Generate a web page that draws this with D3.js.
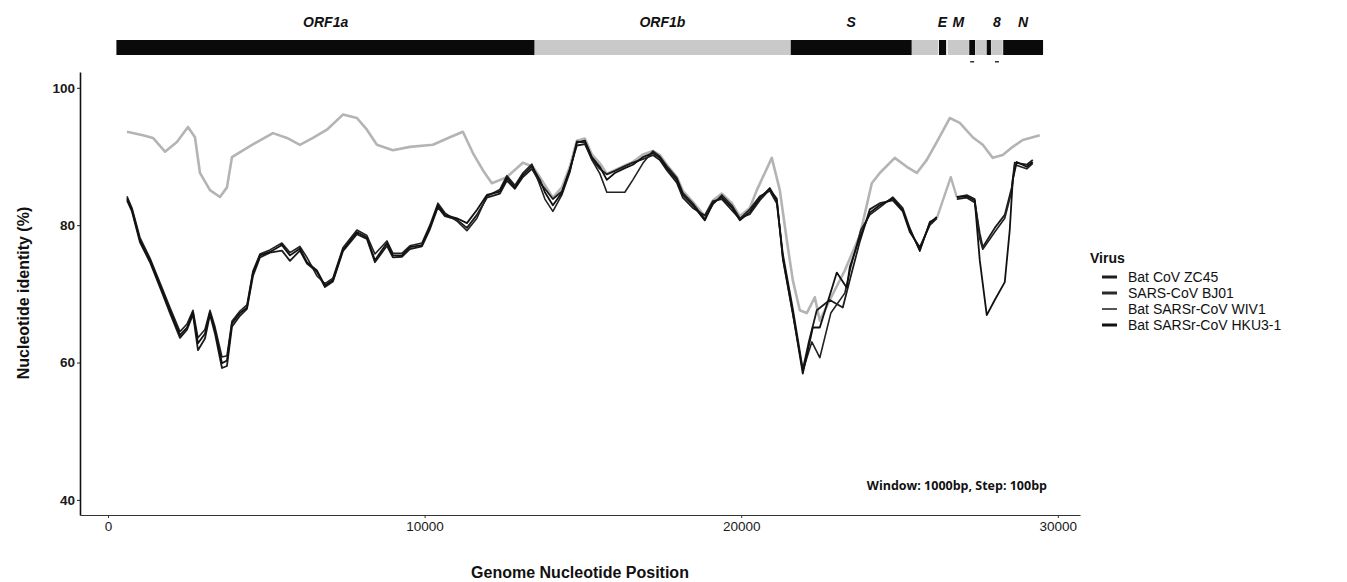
<!DOCTYPE html>
<html>
<head>
<meta charset="utf-8">
<script src="https://cdn.jsdelivr.net/npm/d3@7"></script>
<style>
  body { margin: 0; background: #fff; }
  svg text { font-family: "Liberation Sans", Arial, sans-serif; }
</style>
</head>
<body>
<svg id="chart" width="1347" height="582"></svg>
<script>
// ---- data ----
var viruses = ["Bat CoV ZC45", "SARS-CoV BJ01", "Bat SARSr-CoV WIV1", "Bat SARSr-CoV HKU3-1"];

// [genome position, nucleotide identity %]
var zc45 = [[600,93.6],[1105,93.1],[1421,92.7],[1800,90.7],[2178,92.1],[2526,94.3],[2747,92.8],[2905,87.6],
  [3221,85.1],[3536,84.1],[3758,85.5],[3915,89.9],[4263,90.9],[4704,92.1],[5210,93.4],[5652,92.7],[6062,91.7],
  [6473,92.7],[6915,93.9],[7420,96.1],[7862,95.6],[8178,93.9],[8493,91.7],[8999,90.9],[9536,91.4],[10262,91.7],
  [10799,92.8],[11209,93.6],[11525,90.5],[11841,88.0],[12125,86.1],[12599,87.0],[13104,89.1],[13419,88.5],
  [13640,87.0],[14050,84.0],[14335,85.5],[14588,88.5],[14808,92.3],[15061,92.6],[15282,90.3],[15535,89.0],
  [15756,87.5],[16009,88.0],[16324,88.7],[16577,89.2],[16893,90.3],[17208,90.8],[17429,90.2],[17651,88.8],
  [17966,87.0],[18156,85.0],[18471,83.4],[18850,81.3],[19103,83.6],[19388,84.6],[19703,83.2],[19955,81.3],
  [20272,82.5],[20493,85.1],[20966,89.8],[21219,85.1],[21440,77.8],[21629,72.0],[21850,67.6],[22071,67.2],
  [22324,69.5],[22482,66.1],[22798,69.1],[23271,73.4],[23745,78.5],[24124,86.1],[24377,87.6],[24850,89.8],
  [25229,88.5],[25545,87.6],[25861,89.5],[26176,92.1],[26587,95.6],[26903,94.9],[27313,92.8],[27629,91.7],
  [27945,89.8],[28260,90.2],[28576,91.4],[28892,92.4],[29208,92.8],[29429,93.1]];

var hku3 = [[600,83.9],[758,82.2],[1010,77.8],[1326,74.9],[1705,70.5],[1958,67.6],[2274,64.0],[2495,65.1],
  [2684,67.3],[2842,62.8],[3063,64.2],[3221,67.3],[3379,64.7],[3600,59.9],[3758,60.3],[3915,65.7],[4168,67.2],
  [4389,68.0],[4578,73.0],[4800,75.6],[5115,76.1],[5494,77.1],[5747,75.6],[6062,76.6],[6284,74.6],[6599,73.4],
  [6852,71.2],[7105,72.0],[7420,76.4],[7862,79.0],[8178,78.2],[8431,74.9],[8810,77.4],[8999,75.6],[9283,75.6],
  [9536,76.8],[9915,77.1],[10167,79.7],[10420,82.9],[10641,81.5],[11020,81.0],[11336,80.3],[11651,82.2],
  [11967,84.4],[12378,84.9],[12599,86.9],[12851,85.5],[13104,87.3],[13388,88.6],[13641,86.6],[13799,84.8],
  [14051,82.9],[14335,84.7],[14588,88.0],[14809,92.0],[15062,92.3],[15283,89.9],[15535,88.5],[15756,86.6],
  [16009,87.6],[16325,88.3],[16577,88.8],[16893,89.9],[17209,90.5],[17430,89.8],[17651,88.3],[17966,86.6],
  [18156,84.4],[18472,82.9],[18851,80.7],[19103,83.2],[19388,84.1],[19703,82.6],[19956,80.7],[20272,81.9],
  [20587,83.9],[20903,85.4],[21124,83.6],[21314,75.3],[21630,67.2],[21945,58.4],[22261,65.1],[22482,65.1],
  [23019,73.1],[23334,70.9],[23429,73.9],[23745,78.2],[24061,81.8],[24377,82.9],[24787,83.9],[25103,82.2],
  [25324,79.3],[25640,76.4],[25956,80.3],[26176,81.2],[26400,null],[26808,84.1],[27124,84.2],[27376,83.6],
  [27534,74.9],[27755,66.9],[28008,69.1],[28324,71.7],[28481,79.3],[28576,86.6],[28702,89.2],[29018,88.5],
  [29208,89.2]];

var bj01 = [[600,83.6],[758,82.0],[1010,77.5],[1326,74.6],[1705,70.2],[1958,67.2],[2274,63.6],[2495,64.8],
  [2684,67.0],[2842,61.8],[3063,63.5],[3221,67.0],[3379,64.2],[3600,59.2],[3758,59.5],[3915,65.2],[4168,66.8],
  [4389,67.8],[4578,72.6],[4800,75.3],[5115,76.0],[5494,76.3],[5747,74.8],[6062,76.3],[6284,74.4],[6599,73.2],
  [6852,71.0],[7105,71.8],[7420,76.2],[7862,78.7],[8178,78.0],[8431,74.6],[8810,77.0],[8999,75.3],[9283,75.4],
  [9536,76.5],[9915,76.9],[10167,79.4],[10420,82.6],[10641,81.3],[11020,80.8],[11336,79.6],[11651,81.5],
  [11967,84.0],[12378,84.6],[12599,86.5],[12851,85.3],[13104,87.0],[13388,88.2],[13641,86.2],[13799,85.3],
  [14051,83.8],[14335,84.9],[14588,88.2],[14809,91.6],[15062,91.8],[15283,89.6],[15535,88.2],[15756,87.4],
  [16009,87.9],[16325,88.6],[16577,89.1],[16893,89.6],[17209,90.2],[17430,89.5],[17651,88.0],[17966,86.2],
  [18156,84.0],[18472,82.5],[18851,81.4],[19103,83.5],[19388,83.8],[19703,82.2],[19956,80.9],[20272,82.3],
  [20587,84.2],[20903,85.0],[21124,83.2],[21314,75.8],[21630,67.8],[21945,59.0],[22135,63.0],[22387,67.6],
  [22798,69.1],[23208,68.0],[23429,72.0],[23745,77.6],[24061,82.3],[24377,83.2],[24787,83.6],[25103,82.0],
  [25324,79.0],[25640,76.8],[25956,80.0],[26176,81.0],[26400,null],[26808,83.8],[27124,84.0],[27376,83.3],
  [27534,78.8],[27629,76.8],[28008,79.6],[28324,81.5],[28545,85.5],[28639,89.1],[29018,88.8],[29208,89.5]];

var wiv1 = [[600,84.2],[758,82.5],[1010,78.2],[1326,75.2],[1705,70.9],[1958,68.0],[2274,64.5],[2495,65.6],
  [2684,67.6],[2842,63.6],[3063,64.8],[3221,67.6],[3379,65.2],[3600,60.8],[3758,61.0],[3915,66.0],[4168,67.5],
  [4389,68.4],[4578,73.3],[4800,75.8],[5115,76.4],[5494,77.4],[5747,76.0],[6062,76.9],[6284,75.3],[6599,72.6],
  [6852,71.5],[7105,72.3],[7420,76.7],[7862,79.3],[8178,78.5],[8431,75.8],[8810,77.7],[8999,75.9],[9283,75.9],
  [9536,77.0],[9915,77.4],[10167,80.0],[10420,83.2],[10641,81.8],[11020,80.6],[11336,79.2],[11651,81.0],
  [11967,84.2],[12378,85.2],[12599,87.2],[12851,85.8],[13104,87.6],[13388,88.9],[13641,85.8],[13799,83.8],
  [14051,82.0],[14335,84.4],[14588,87.7],[14809,92.2],[15062,92.0],[15283,89.5],[15535,87.5],[15756,84.8],
  [16009,84.8],[16325,84.8],[16577,86.6],[16893,89.0],[17209,90.8],[17430,90.0],[17651,88.6],[17966,86.9],
  [18156,84.7],[18472,83.2],[18851,80.9],[19103,83.0],[19388,84.4],[19703,82.9],[19956,81.0],[20272,81.6],
  [20587,83.6],[20903,85.2],[21124,83.9],[21314,75.0],[21630,67.0],[21945,58.8],[22230,63.0],[22482,60.7],
  [22830,67.2],[23271,70.1],[23460,73.9],[23776,79.3],[24061,81.5],[24377,82.6],[24787,84.1],[25103,82.5],
  [25324,79.6],[25640,76.2],[25956,80.5],[26176,81.0],[26619,87.0],[26808,84.1],[27124,84.4],[27376,83.8],
  [27534,78.0],[27629,76.5],[28008,79.0],[28324,81.0],[28545,85.0],[28639,88.8],[29018,88.2],[29208,89.0]];

// stretch of the WIV1 trace that prints light in the figure
var wiv1Faded = [26176, 26808];

var genes = ["ORF1a", "ORF1b", "S", "ORF3a", "E", "M", "ORF6", "ORF7a", "ORF7b", "ORF8", "N"];
var geneStart = [266, 13468, 21563, 25393, 26245, 26523, 27202, 27394, 27756, 27894, 28274];
var geneEnd = [13483, 21555, 25384, 26220, 26472, 27191, 27387, 27759, 27887, 28259, 29533];
var geneLabels = ["ORF1a", "ORF1b", "S", "", "E", "M", "", "", "", "8", "N"];
var geneDash = ["ORF6", "ORF8"];   // little marks under the bar

var xTicks = [0, 10000, 20000, 30000];
var yTicks = [40, 60, 80, 100];

// ---- drawing ----
var svg = d3.select("#chart");

var x = d3.scaleLinear().domain([-884, 30700]).range([80, 1080]);
var y = d3.scaleLinear().domain([37.8, 102.3]).range([515, 72]);

var series = [
  { name: viruses[0], data: zc45, color: "#b4b4b4", width: 2.6, key: "#1e1e1e" },
  { name: viruses[1], data: bj01, color: "#1c1c1c", width: 1.8, key: "#2a2a2a" },
  { name: viruses[2], data: wiv1, color: "#222222", width: 1.6, key: "#555555" },
  { name: viruses[3], data: hku3, color: "#111111", width: 1.8, key: "#111111" }
];

// genome map bar
var gene = svg.append("g");
gene.selectAll("rect.g")
  .data(genes)
  .enter().append("rect")
  .attr("class", "g")
  .attr("x", function(d, i) { return x(geneStart[i]); })
  .attr("width", function(d, i) { return x(geneEnd[i]) - x(geneStart[i]); })
  .attr("y", 40)
  .attr("height", 15)
  .attr("fill", function(d, i) { return i % 2 === 0 ? "#0a0a0a" : "#c9c9c9"; });

gene.selectAll("rect.dash")
  .data(geneDash)
  .enter().append("rect")
  .attr("class", "dash")
  .attr("x", function(d) { var i = genes.indexOf(d); return x((geneStart[i] + geneEnd[i]) / 2) - 2; })
  .attr("y", 61)
  .attr("width", 4)
  .attr("height", 1.5)
  .attr("fill", "#333");

gene.selectAll("text")
  .data(genes)
  .enter().append("text")
  .attr("x", function(d, i) { return x((geneStart[i] + geneEnd[i]) / 2); })
  .attr("y", 27)
  .attr("text-anchor", "middle")
  .style("font-size", "14px")
  .style("font-weight", "bold")
  .style("font-style", "italic")
  .attr("fill", "#111")
  .text(function(d, i) { return geneLabels[i]; });

// lines
var line = d3.line()
  .defined(function(d) { return d[1] != null; })
  .x(function(d) { return x(d[0]); })
  .y(function(d) { return y(d[1]); });

var plot = svg.append("g");
series.forEach(function(s) {
  var dark = line;
  if (s.data === wiv1) {
    dark = d3.line()
      .defined(function(d) { return d[1] != null && (d[0] <= wiv1Faded[0] || d[0] >= wiv1Faded[1]); })
      .x(function(d) { return x(d[0]); })
      .y(function(d) { return y(d[1]); });
    var faded = d3.line()
      .defined(function(d) { return d[0] >= wiv1Faded[0] && d[0] <= wiv1Faded[1]; })
      .x(function(d) { return x(d[0]); })
      .y(function(d) { return y(d[1]); });
    plot.append("path")
      .attr("d", faded(s.data))
      .attr("fill", "none")
      .attr("stroke", "#b4b4b4")
      .attr("stroke-width", 2.4)
      .attr("stroke-linejoin", "round");
  }
  plot.append("path")
    .attr("d", dark(s.data))
    .attr("fill", "none")
    .attr("stroke", s.color)
    .attr("stroke-width", s.width)
    .attr("stroke-linejoin", "round");
});

// axes
var yAxis = svg.append("g")
  .attr("transform", "translate(80,0)")
  .call(d3.axisLeft(y).tickValues(yTicks).tickSize(3).tickSizeOuter(0));
yAxis.select(".domain").attr("stroke", "#111").attr("stroke-width", 1.6);
yAxis.selectAll(".tick line").attr("stroke", "#222");
yAxis.selectAll(".tick text")
  .attr("x", -5)
  .style("font-size", "13.5px")
  .style("font-weight", "bold")
  .attr("fill", "#1a1a1a");

var xAxis = svg.append("g")
  .attr("transform", "translate(0,515)")
  .call(d3.axisBottom(x).tickValues(xTicks).tickFormat(d3.format("d")).tickSize(3).tickSizeOuter(0));
xAxis.select(".domain").attr("stroke", "#333").attr("stroke-width", 1.2);
xAxis.selectAll(".tick line").attr("stroke", "#333");
xAxis.selectAll(".tick text")
  .attr("y", 6)
  .style("font-size", "13.5px")
  .attr("fill", "#1a1a1a");

// axis titles
svg.append("text")
  .attr("transform", "translate(29,293) rotate(-90)")
  .attr("text-anchor", "middle")
  .style("font-size", "16px")
  .style("font-weight", "bold")
  .attr("fill", "#111")
  .text("Nucleotide identity (%)");

svg.append("text")
  .attr("x", 580)
  .attr("y", 578)
  .attr("text-anchor", "middle")
  .style("font-size", "16px")
  .style("font-weight", "bold")
  .attr("fill", "#111")
  .text("Genome Nucleotide Position");

svg.append("text")
  .attr("x", 1047)
  .attr("y", 490)
  .attr("text-anchor", "end")
  .style("font-family", "'Open Sans', sans-serif")
  .style("font-size", "12.5px")
  .style("font-weight", "bold")
  .attr("fill", "#111")
  .text("Window: 1000bp, Step: 100bp");

// legend
var legend = svg.append("g").attr("transform", "translate(1090,0)");
legend.append("text")
  .attr("x", 0)
  .attr("y", 263)
  .style("font-size", "14px")
  .style("font-weight", "bold")
  .attr("fill", "#111")
  .text("Virus");

var items = legend.selectAll("g.item")
  .data(series)
  .enter().append("g")
  .attr("class", "item")
  .attr("transform", function(d, i) { return "translate(0," + (277 + i * 16) + ")"; });
items.append("line")
  .attr("x1", 12).attr("x2", 27)
  .attr("y1", 0).attr("y2", 0)
  .attr("stroke", function(d) { return d.key; })
  .attr("stroke-width", function(d, i) { return i === 2 ? 2 : 3; });
items.append("text")
  .attr("x", 38)
  .attr("y", 5)
  .style("font-size", "14px")
  .attr("fill", "#111")
  .text(function(d) { return d.name; });
</script>
</body>
</html>
